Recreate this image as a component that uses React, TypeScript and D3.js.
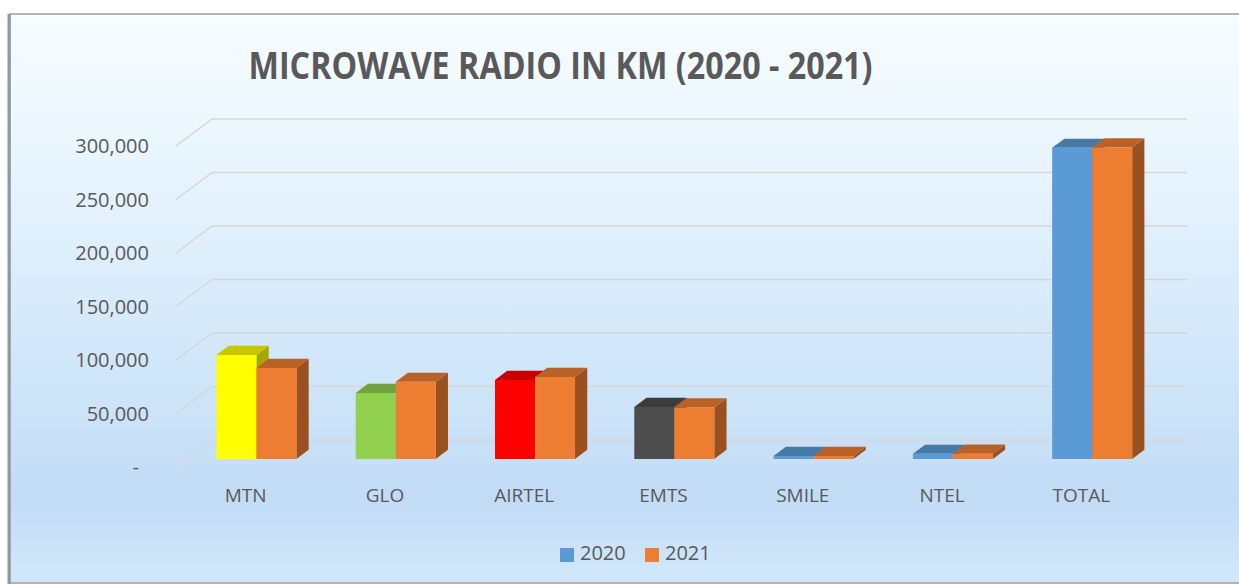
import React from "react";
import * as d3 from "d3";

const categories = ["MTN", "GLO", "AIRTEL", "EMTS", "SMILE", "NTEL", "TOTAL"];
const values2020 = [97200, 61700, 73800, 48600, 2800, 4700, 290700];
const values2021 = [85000, 72000, 76600, 48000, 2800, 4800, 291000];
const colors2020 = ["#ffff00", "#92d050", "#ff0000", "#4d4d4d", "#5b9bd5", "#5b9bd5", "#5b9bd5"];
const color2021 = "#ed7d31";
const yTicks = [0, 50000, 100000, 150000, 200000, 250000, 300000];
const seriesNames = ["2020", "2021"];
const legendColors = ["#5b9bd5", "#ed7d31"];

const W = 1239;
const H = 587;
const FONT = "'Open Sans', 'Liberation Sans', sans-serif";

export default function App() {
  // back wall of the 3-D plot
  const yWall = d3.scaleLinear().domain([0, 300000]).range([440, 119]);
  const xBand = d3.scaleBand<string>().domain(categories).range([212, 1187]);
  const depth = { dx: -36, dy: 27 }; // vector from back wall to front edge
  const fFront = 0.7;
  const fBack = 0.36;
  const barW = 40;

  const p = (x: number, v: number, f: number) => [x + depth.dx * f, yWall(v) + depth.dy * f];
  const pts = (arr: number[][]) => arr.map((a) => a.join(",")).join(" ");
  const fmt = d3.format(",");

  const bars: JSX.Element[] = [];
  categories.forEach((c, i) => {
    const center = (xBand(c) as number) + xBand.bandwidth() / 2;
    [values2020[i], values2021[i]].forEach((v, s) => {
      const base = s === 0 ? colors2020[i] : color2021;
      const top = d3.color(base)!.darker(0.7).formatHex();
      const side = d3.color(base)!.darker(1.2).formatHex();
      const x0 = center - barW + barW * s;
      const x1 = x0 + barW;
      const front = [p(x0, v, fFront), p(x1, v, fFront), p(x1, 0, fFront), p(x0, 0, fFront)];
      const topFace = [p(x0, v, fFront), p(x0, v, fBack), p(x1, v, fBack), p(x1, v, fFront)];
      const sideFace = [p(x1, v, fFront), p(x1, v, fBack), p(x1, 0, fBack), p(x1, 0, fFront)];
      bars.push(
        <g key={c + s}>
          <polygon points={pts(sideFace)} fill={side} />
          <polygon points={pts(topFace)} fill={top} />
          <polygon points={pts(front)} fill={base} />
        </g>
      );
    });
  });

  return (
    <svg width={W} height={H} style={{ position: "absolute", left: 0, top: 0 }}>
      <defs>
        <linearGradient id="bg" x1="0" y1="0" x2="0" y2="1">
          <stop offset="0" stopColor="#f7fcff" />
          <stop offset="0.15" stopColor="#eff9fe" />
          <stop offset="0.55" stopColor="#d5e9fa" />
          <stop offset="0.85" stopColor="#c2dcf6" />
          <stop offset="1" stopColor="#d2e7fa" />
        </linearGradient>
      </defs>
      <rect x={0} y={0} width={W} height={H} fill="#ffffff" />
      <rect x={10} y={14} width={W + 10} height={569} fill="url(#bg)" stroke="#b4b4b4" strokeWidth={2} />
      <line x1={9} y1={14} x2={9} y2={584} stroke="#8c9aa8" strokeWidth={3} />

      <text
        x={560.5}
        y={79}
        textAnchor="middle"
        fontFamily={FONT}
        fontWeight="bold"
        fontSize={37}
        fill="#595959"
        textLength={624}
        lengthAdjust="spacingAndGlyphs"
      >
        MICROWAVE RADIO IN KM (2020 - 2021)
      </text>

      {yTicks.map((t) => {
        const [fx, fy] = p(212, t, 1);
        const y = yWall(t);
        return (
          <g key={t}>
            <polyline
              points={pts([[fx, fy], [212, y], [1187, y]])}
              fill="none"
              stroke="#d6d6d6"
              strokeWidth={1.5}
            />
            <text
              x={t === 0 ? 139 : 149}
              y={fy + 2}
              textAnchor="end"
              dominantBaseline="middle"
              fontFamily={FONT}
              fontSize={20}
              fill="#595959"
            >
              {t === 0 ? "-" : fmt(t)}
            </text>
          </g>
        );
      })}

      {bars}

      {categories.map((c) => {
        // labels sit on the front edge of the floor
        const cx = (xBand(c) as number) + xBand.bandwidth() / 2 + depth.dx;
        return (
          <text
            key={c}
            x={cx}
            y={497}
            textAnchor="middle"
            dominantBaseline="middle"
            fontFamily={FONT}
            fontSize={19}
            fill="#595959"
          >
            {c}
          </text>
        );
      })}

      {seriesNames.map((s, i) => {
        const lx = 560 + i * 85;
        return (
          <g key={s}>
            <rect x={lx} y={548} width={14} height={14} fill={legendColors[i]} />
            <text x={lx + 20} y={555} dominantBaseline="middle" fontFamily={FONT} fontSize={20} fill="#595959">
              {s}
            </text>
          </g>
        );
      })}
    </svg>
  );
}
